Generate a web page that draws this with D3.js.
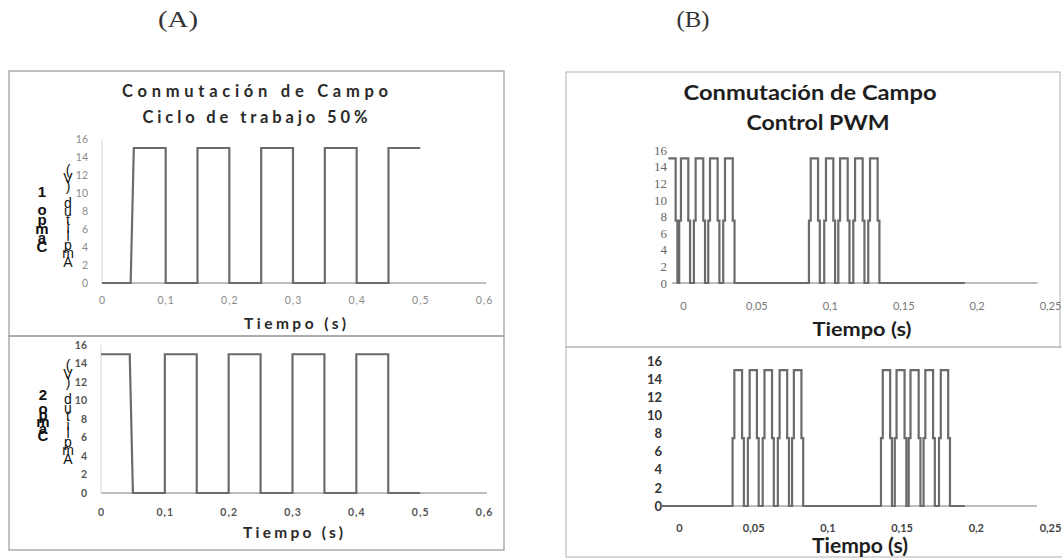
<!DOCTYPE html>
<html><head><meta charset="utf-8">
<script src="https://cdn.jsdelivr.net/npm/d3@7"></script>
<style>body{margin:0;background:#fff}svg{display:block}</style>
</head><body>
<svg id="c" width="1062" height="558"></svg>
<script>
// ---------- data ----------
const aTicksX = [0, 0.1, 0.2, 0.3, 0.4, 0.5, 0.6];
const bTicksX = [0, 0.05, 0.1, 0.15, 0.2, 0.25];
const yTicks = [0, 2, 4, 6, 8, 10, 12, 14, 16];

// (A) 50% duty cycle, field 1 and field 2
const aTopTime = [0, 0.045, 0.05, 0.1, 0.1, 0.15, 0.15, 0.2, 0.2, 0.25, 0.25, 0.3, 0.3, 0.35, 0.35, 0.4, 0.4, 0.45, 0.45, 0.5];
const aTopAmp  = [0, 0, 15, 15, 0, 0, 15, 15, 0, 0, 15, 15, 0, 0, 15, 15, 0, 0, 15, 15];
const aBotTime = [0, 0.045, 0.05, 0.1, 0.1, 0.15, 0.15, 0.2, 0.2, 0.25, 0.25, 0.3, 0.3, 0.35, 0.35, 0.4, 0.4, 0.45, 0.45, 0.5];
const aBotAmp  = [15, 15, 0, 0, 15, 15, 0, 0, 15, 15, 0, 0, 15, 15, 0, 0, 15, 15, 0, 0];

// (B) PWM control: edge times (s)
const bTopStart = -0.010, bTopStartAmp = 15, bTopEnd = 0.192;
const bTopRise = [-0.0014, 0.0086, 0.0184, 0.0286, 0.087, 0.0974, 0.107, 0.1172, 0.1274];
const bTopFall = [-0.005, 0.0036, 0.0138, 0.0236, 0.0339, 0.092, 0.1024, 0.1122, 0.1224, 0.1326];
const bBotStart = -0.0128, bBotStartAmp = 0, bBotEnd = 0.1926;
const bBotRise = [0.0373, 0.0476, 0.0576, 0.0678, 0.0774, 0.1373, 0.1466, 0.156, 0.166, 0.1764];
const bBotFall = [0.0425, 0.0525, 0.0627, 0.0729, 0.0825, 0.1423, 0.152, 0.1615, 0.1712, 0.1814];
const highAmp = 15, midAmp = 7.5, stepDt = 0.0012;

// ---------- helpers ----------
const svg = d3.select('#c');
const fmt = d => String(d).replace('.', ',');
const lineColor = '#6b6b6b';

function pwmPoints(start, startAmp, end, rises, falls) {
  const edges = rises.map(t => ({t, r: true})).concat(falls.map(t => ({t, r: false}))).sort((a, b) => a.t - b.t);
  const pts = [[start, startAmp]];
  let last = startAmp;
  edges.forEach(e => {
    if (e.r) { pts.push([e.t - stepDt, 0], [e.t - stepDt, midAmp], [e.t, midAmp], [e.t, highAmp]); last = highAmp; }
    else { pts.push([e.t, highAmp], [e.t, midAmp], [e.t + stepDt, midAmp], [e.t + stepDt, 0]); last = 0; }
  });
  pts.push([end, last]);
  return pts;
}

function box(x0, y0, x1, y1, color, w) {
  svg.append('rect').attr('x', x0).attr('y', y0).attr('width', x1 - x0).attr('height', y1 - y0)
    .attr('fill', 'none').attr('stroke', color).attr('stroke-width', w);
}

// y-axis title: upright characters stacked bottom-to-top in ONE vertical text element
function stackLabel(text, cx, yBottom, yTop, size, weight) {
  const n = Array.from(text).length;
  const step = (yBottom - yTop) / (n - 1);
  svg.append('text').attr('x', cx).attr('y', yBottom + step / 2)
    .style('writing-mode', 'vertical-rl').style('text-orientation', 'upright')
    .style('direction', 'rtl').style('unicode-bidi', 'bidi-override')
    .style('font-feature-settings', '"vert" 0, "vrt2" 0')
    .attr('textLength', n * step).attr('lengthAdjust', 'spacing')
    .attr('text-anchor', 'start')
    .attr('font-family', 'Liberation Sans, Arial, sans-serif').attr('font-size', size)
    .attr('font-weight', weight).attr('fill', '#111').text(text);
}

function txt(x, y, s, o) {
  const t = svg.append('text').attr('x', x).attr('y', y).attr('text-anchor', 'middle')
    .attr('font-family', o.family || 'Lato, sans-serif').attr('font-size', o.size)
    .attr('font-weight', o.weight || 'bold').attr('fill', o.fill || '#222').text(s);
  if (o.len) t.attr('textLength', o.len).attr('lengthAdjust', o.adj || 'spacing');
  return t;
}

function chart(cfg) {
  const x = d3.scaleLinear().domain(cfg.xDomain).range(cfg.xRange);
  const y = d3.scaleLinear().domain([0, 16]).range(cfg.yRange);
  svg.append('line').attr('x1', x(cfg.axisMin)).attr('x2', x(cfg.axisMax))
    .attr('y1', y(0)).attr('y2', y(0)).attr('stroke', '#a8a8a8').attr('stroke-width', 1.6);
  if (cfg.yLine) {
    svg.append('line').attr('x1', x(cfg.axisMin)).attr('x2', x(cfg.axisMin))
      .attr('y1', y(16)).attr('y2', y(0)).attr('stroke', '#d8d8d8').attr('stroke-width', 1);
  }
  const gx = svg.append('g').attr('transform', `translate(0,${y(0)})`)
    .call(d3.axisBottom(x).tickValues(cfg.xTicks).tickFormat(fmt).tickSize(0).tickPadding(cfg.xPad));
  gx.select('.domain').remove();
  gx.selectAll('text').attr('font-family', cfg.xFont).attr('font-size', cfg.xSize)
    .attr('font-weight', cfg.xWeight).attr('fill', cfg.xFill).attr('letter-spacing', cfg.xSpacing || 0);
  const gy = svg.append('g').attr('transform', `translate(${cfg.yAxisX},0)`)
    .call(d3.axisLeft(y).tickValues(yTicks).tickSize(0).tickPadding(cfg.yPad));
  gy.select('.domain').remove();
  gy.selectAll('text').attr('font-family', cfg.yFont).attr('font-size', cfg.ySize)
    .attr('font-weight', cfg.yWeight).attr('fill', cfg.yFill);
  svg.append('path').datum(cfg.points)
    .attr('d', d3.line().x(d => x(d[0])).y(d => y(d[1])))
    .attr('fill', 'none').attr('stroke', lineColor).attr('stroke-width', 2.2)
    .attr('stroke-linejoin', 'miter');
}

// ---------- panel labels ----------
txt(178, 27, '(A)', {family: 'Liberation Serif, serif', size: 23, weight: 'normal', fill: '#333', len: 40, adj: 'spacingAndGlyphs'});
txt(693, 27, '(B)', {family: 'Liberation Serif, serif', size: 23, weight: 'normal', fill: '#333', len: 33, adj: 'spacingAndGlyphs'});

// ---------- borders ----------
box(9, 71, 504, 336, '#a0a0a0', 1.3);
box(9, 336, 504, 550, '#a0a0a0', 1.3);
box(566, 72, 1060, 347, '#bdbdbd', 1.2);
box(566, 347, 1063, 557, '#bdbdbd', 1.2);

// ---------- (A) top ----------
txt(255, 97, 'Conmutación de Campo', {size: 16.5, fill: '#2a2a2a', len: 266});
txt(255, 123, 'Ciclo de trabajo 50%', {size: 16.5, fill: '#2a2a2a', len: 225});
chart({
  xDomain: [0, 0.6], xRange: [102, 484], yRange: [283, 139], axisMin: 0, axisMax: 0.6035, yLine: true,
  xTicks: aTicksX, xPad: 14, xFont: 'Lato, sans-serif', xSize: 10.5, xWeight: 'normal', xFill: '#8a8a8a', xSpacing: 1,
  yAxisX: 102, yPad: 14, yFont: 'Lato, sans-serif', ySize: 10.5, yWeight: 'normal', yFill: '#8a8a8a',
  points: aTopTime.map((t, i) => [t, aTopAmp[i]])
});
txt(295, 329, 'Tiempo (s)', {size: 15.5, fill: '#2a2a2a', len: 102});
stackLabel('Campo 1', 42, 250, 188, 15, 'bold');
stackLabel('Amplitud (V)', 68, 265, 166, 14, 'normal');

// ---------- (A) bottom ----------
chart({
  xDomain: [0, 0.6], xRange: [101, 484], yRange: [493, 345], axisMin: 0, axisMax: 0.6045, yLine: true,
  xTicks: aTicksX, xPad: 16, xFont: 'Lato, sans-serif', xSize: 10.5, xWeight: 'bold', xFill: '#555', xSpacing: 1,
  yAxisX: 101, yPad: 14, yFont: 'Lato, sans-serif', ySize: 10.5, yWeight: 'bold', yFill: '#555',
  points: aBotTime.map((t, i) => [t, aBotAmp[i]])
});
txt(293, 538, 'Tiempo (s)', {size: 15.5, fill: '#2a2a2a', len: 100});
stackLabel('Campo 2', 43, 440, 390, 15, 'bold');
stackLabel('Amplitud (V)', 68, 462, 362, 14, 'normal');

// ---------- (B) top ----------
txt(810, 100, 'Conmutación de Campo', {size: 21, fill: '#1e1e1e', len: 253, adj: 'spacingAndGlyphs'});
txt(818, 130, 'Control PWM', {size: 21, fill: '#1e1e1e', len: 143, adj: 'spacingAndGlyphs'});
chart({
  xDomain: [0, 0.25], xRange: [683, 1050], yRange: [283, 150], axisMin: -0.0075, axisMax: 0.2415,
  xTicks: bTicksX, xPad: 19, xFont: 'Lato, sans-serif', xSize: 11, xWeight: 'normal', xFill: '#777',
  yAxisX: 668, yPad: 1, yFont: 'Liberation Serif, serif', ySize: 13, yWeight: 'normal', yFill: '#666',
  points: pwmPoints(bTopStart, bTopStartAmp, bTopEnd, bTopRise, bTopFall)
});
txt(862, 336, 'Tiempo (s)', {size: 18, fill: '#1e1e1e', len: 99, adj: 'spacingAndGlyphs'});

// ---------- (B) bottom ----------
chart({
  xDomain: [0, 0.25], xRange: [679, 1050], yRange: [506, 361], axisMin: -0.0128, axisMax: 0.2412,
  xTicks: bTicksX, xPad: 18, xFont: 'Lato, sans-serif', xSize: 11, xWeight: 'bold', xFill: '#444',
  yAxisX: 664, yPad: 2, yFont: 'Lato, sans-serif', ySize: 13, yWeight: 'bold', yFill: '#333',
  points: pwmPoints(bBotStart, bBotStartAmp, bBotEnd, bBotRise, bBotFall)
});
txt(860, 553, 'Tiempo (s)', {size: 20, fill: '#1e1e1e', len: 96, adj: 'spacingAndGlyphs'});
</script>
</body></html>
